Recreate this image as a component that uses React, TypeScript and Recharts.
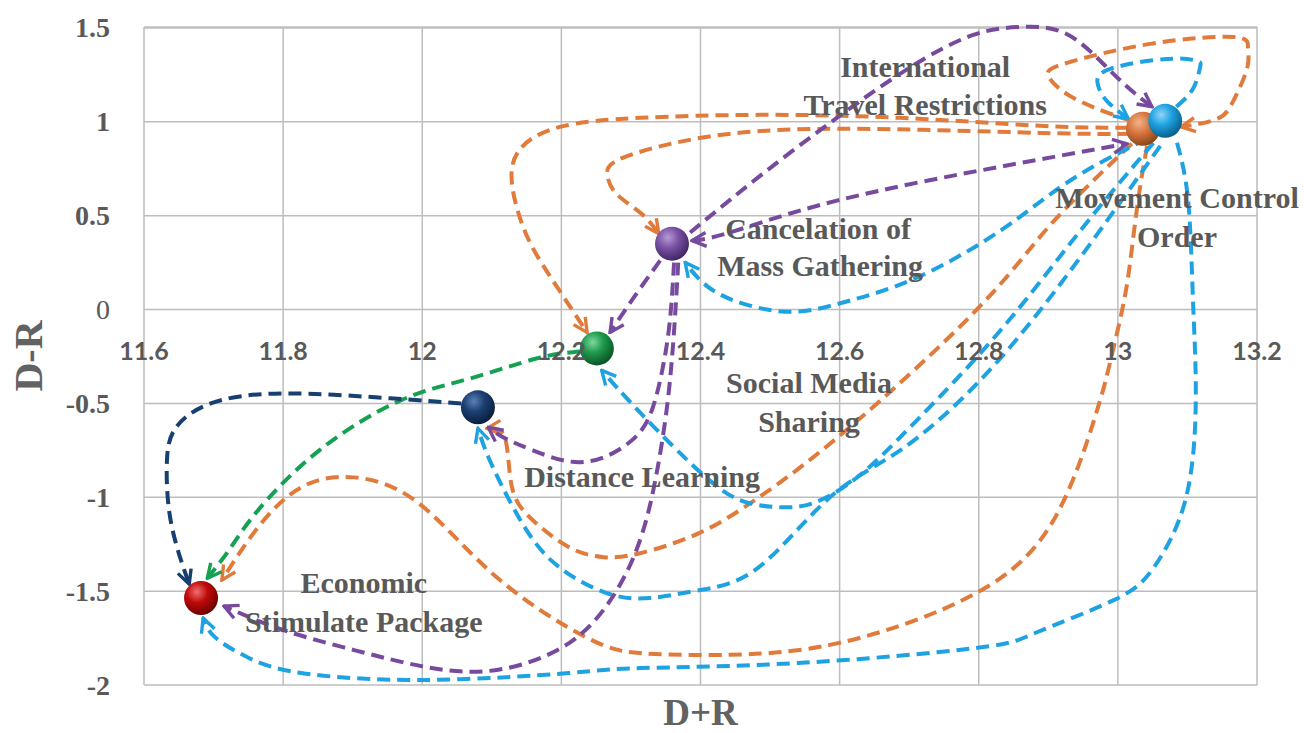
import React from "react";
import {
  ComposedChart,
  Line,
  Scatter,
  XAxis,
  YAxis,
  CartesianGrid,
  Label,
} from "recharts";

// axis ticks
const xTicks = [11.6, 11.8, 12, 12.2, 12.4, 12.6, 12.8, 13, 13.2];
const yTicks = [1.5, 1, 0.5, 0, -0.5, -1, -1.5, -2];

// measures (D+R, D-R)
const measures = [
  { id: "itr", x: 13.036, y: 0.963, base: "#d8773f", light: "#f3b48a", dark: "#8a4418" },
  { id: "mco", x: 13.068, y: 1.005, base: "#1ea2e1", light: "#8fd6f7", dark: "#0b5d88" },
  { id: "cmg", x: 12.359, y: 0.351, base: "#7a52a5", light: "#b79ad6", dark: "#3f2562" },
  { id: "sms", x: 12.251, y: -0.207, base: "#1e9a4c", light: "#7fd79e", dark: "#0b5226" },
  { id: "dl", x: 12.08, y: -0.521, base: "#1c3f72", light: "#5b82b8", dark: "#0a1d3a" },
  { id: "esp", x: 11.682, y: -1.537, base: "#c00a0a", light: "#f07070", dark: "#6a0000" },
];

// text next to the measures
const labelLines = [
  { text: "International", x: 12.723, y: 1.293 },
  { text: "Travel Restrictions", x: 12.723, y: 1.09 },
  { text: "Movement Control", x: 13.085, y: 0.596 },
  { text: "Order", x: 13.085, y: 0.388 },
  { text: "Cancelation of", x: 12.569, y: 0.434 },
  { text: "Mass Gathering", x: 12.572, y: 0.234 },
  { text: "Social Media", x: 12.556, y: -0.388 },
  { text: "Sharing", x: 12.556, y: -0.596 },
  { text: "Distance Learning", x: 12.316, y: -0.888 },
  { text: "Economic", x: 11.916, y: -1.455 },
  { text: "Stimulate Package", x: 11.916, y: -1.66 },
];

// influence paths [D+R, D-R]
const itrToSms: [number, number][] = [
  [13.015, 0.968], [12.888, 0.979], [12.687, 1.021], [12.486, 1.037], [12.313, 1.021],
  [12.198, 0.973], [12.141, 0.856], [12.129, 0.67], [12.149, 0.404], [12.185, 0.17], [12.237, -0.122],
];
const itrToCmg: [number, number][] = [
  [13.018, 0.936], [12.888, 0.941], [12.596, 0.963], [12.401, 0.915], [12.289, 0.809],
  [12.266, 0.723], [12.279, 0.617], [12.315, 0.511], [12.34, 0.404],
];
const itrLoop: [number, number][] = [
  [13.02, 1.005], [12.989, 1.043], [12.931, 1.138], [12.9, 1.245], [12.927, 1.314], [13.046, 1.415],
  [13.166, 1.452], [13.187, 1.394], [13.186, 1.287], [13.166, 1.112], [13.143, 1.016], [13.091, 0.973],
];
const itrToDl: [number, number][] = [
  [13.02, 0.883], [12.902, 0.447], [12.796, -0.005], [12.609, -0.644], [12.484, -1.0], [12.398, -1.191],
  [12.313, -1.298], [12.261, -1.319], [12.211, -1.266], [12.159, -1.122], [12.129, -0.947], [12.119, -0.686], [12.093, -0.633],
];
const itrToEsp: [number, number][] = [
  [13.042, 0.872], [13.029, 0.58], [13.018, 0.261], [13.006, -0.005], [12.986, -0.324], [12.967, -0.574],
  [12.91, -1.106], [12.796, -1.511], [12.598, -1.777], [12.427, -1.84], [12.313, -1.83], [12.235, -1.745],
  [12.107, -1.426], [11.995, -1.032], [11.902, -0.894], [11.826, -0.947], [11.764, -1.16], [11.712, -1.441],
];
const mcoLoop: [number, number][] = [
  [13.084, 1.08], [13.108, 1.176], [13.118, 1.287], [13.114, 1.324], [13.071, 1.335],
  [12.989, 1.282], [12.971, 1.202], [12.984, 1.112], [13.015, 1.016],
];
const mcoToCmg: [number, number][] = [
  [13.042, 0.91], [12.931, 0.686], [12.831, 0.42], [12.711, 0.17], [12.615, 0.048],
  [12.54, -0.011], [12.471, 0.021], [12.414, 0.112], [12.378, 0.25],
];
const mcoToSms: [number, number][] = [
  [13.051, 0.888], [12.946, 0.42], [12.831, -0.112], [12.711, -0.59], [12.629, -0.883], [12.572, -1.016],
  [12.529, -1.053], [12.471, -1.032], [12.408, -0.894], [12.313, -0.548], [12.258, -0.324],
];
const mcoToDl: [number, number][] = [
  [13.061, 0.872], [12.974, 0.42], [12.888, -0.005], [12.795, -0.404], [12.687, -0.75], [12.586, -1.0],
  [12.484, -1.372], [12.398, -1.495], [12.327, -1.537], [12.261, -1.505], [12.185, -1.335],
  [12.133, -1.069], [12.097, -0.803], [12.08, -0.633],
];
const mcoToEsp: [number, number][] = [
  [13.085, 0.888], [13.101, 0.58], [13.108, 0.048], [13.112, -0.484], [13.097, -1.016], [13.052, -1.372],
  [12.994, -1.548], [12.881, -1.723], [12.796, -1.803], [12.54, -1.883], [12.313, -1.91], [12.211, -1.936],
  [12.005, -1.973], [11.826, -1.936], [11.748, -1.851], [11.702, -1.745], [11.685, -1.644],
];
const cmgToMco: [number, number][] = [
  [12.385, 0.41], [12.486, 0.713], [12.596, 1.021], [12.7, 1.287], [12.79, 1.46], [12.86, 1.505],
  [12.925, 1.47], [12.982, 1.298], [13.02, 1.165], [13.049, 1.08],
];
const cmgItrBoth: [number, number][] = [
  [12.388, 0.367], [12.442, 0.41], [12.596, 0.58], [12.831, 0.761], [13.013, 0.883],
];
const cmgToSms: [number, number][] = [[12.342, 0.261], [12.306, 0.074], [12.27, -0.122]];
const cmgToDl: [number, number][] = [
  [12.362, 0.25], [12.356, -0.059], [12.345, -0.324], [12.33, -0.537], [12.306, -0.681],
  [12.261, -0.787], [12.211, -0.809], [12.159, -0.75], [12.119, -0.686], [12.095, -0.628],
];
const cmgToEsp: [number, number][] = [
  [12.368, 0.25], [12.363, -0.059], [12.353, -0.484], [12.335, -0.91], [12.313, -1.229], [12.277, -1.511],
  [12.211, -1.777], [12.107, -1.92], [12.005, -1.904], [11.902, -1.814], [11.8, -1.707], [11.715, -1.58],
];
const smsToEsp: [number, number][] = [
  [12.227, -0.223], [12.164, -0.261], [12.069, -0.367], [11.969, -0.484],
  [11.852, -0.75], [11.764, -1.069], [11.722, -1.282], [11.691, -1.431],
];
const dlToEsp: [number, number][] = [
  [12.056, -0.5], [11.954, -0.473], [11.8, -0.447], [11.696, -0.5], [11.646, -0.628],
  [11.633, -0.803], [11.636, -1.069], [11.65, -1.298], [11.665, -1.463],
];

const ORANGE = "#e07b3c";
const BLUE = "#1ea2e1";
const PURPLE = "#774a9e";
const GREEN = "#14a152";
const NAVY = "#173f70";

const arrows = [
  { key: "itr-sms", color: ORANGE, m: "o", pts: itrToSms },
  { key: "itr-cmg", color: ORANGE, m: "o", pts: itrToCmg },
  { key: "itr-loop", color: ORANGE, m: "o", pts: itrLoop },
  { key: "itr-dl", color: ORANGE, m: "o", pts: itrToDl },
  { key: "itr-esp", color: ORANGE, m: "o", pts: itrToEsp },
  { key: "mco-loop", color: BLUE, m: "b", pts: mcoLoop },
  { key: "mco-cmg", color: BLUE, m: "b", pts: mcoToCmg },
  { key: "mco-sms", color: BLUE, m: "b", pts: mcoToSms },
  { key: "mco-dl", color: BLUE, m: "b", pts: mcoToDl },
  { key: "mco-esp", color: BLUE, m: "b", pts: mcoToEsp },
  { key: "cmg-mco", color: PURPLE, m: "p", pts: cmgToMco },
  { key: "cmg-itr", color: PURPLE, m: "p", pts: cmgItrBoth, both: true },
  { key: "cmg-sms", color: PURPLE, m: "p", pts: cmgToSms },
  { key: "cmg-dl", color: PURPLE, m: "p", pts: cmgToDl },
  { key: "cmg-esp", color: PURPLE, m: "p", pts: cmgToEsp },
  { key: "sms-esp", color: GREEN, m: "g", pts: smsToEsp },
  { key: "dl-esp", color: NAVY, m: "n", pts: dlToEsp },
];

const W = 1304;
const H = 733;
const PLOT_TOP = 27;
const PLOT_BOTTOM = 48;
const PLOT_H = H - PLOT_TOP - PLOT_BOTTOM;
const TEXT = "#595959";
const SERIF = "'Liberation Serif', 'Times New Roman', serif";

// x labels sit under the zero line, not at the bottom of the plot
const zeroFromBottom = (PLOT_H * (0 - yTicks[yTicks.length - 1])) / (yTicks[0] - yTicks[yTicks.length - 1]);

const XTick = (props: any) => {
  const { x, y, payload } = props;
  return (
    <text x={x} y={y - zeroFromBottom + 41} textAnchor="middle" dominantBaseline="central"
      fill={TEXT} fontFamily="Lato, 'Open Sans', sans-serif" fontWeight={700} fontSize={25}>
      {payload.value}
    </text>
  );
};

const YTick = (props: any) => {
  const { x, y, payload } = props;
  return (
    <text x={x - 34} y={y} textAnchor="end" dominantBaseline="central" fill={TEXT}
      fontFamily={SERIF} fontWeight={payload.value === 0 ? 400 : 700} fontSize={28}>
      {payload.value}
    </text>
  );
};

const XTitle = (props: any) => {
  const { viewBox } = props;
  return (
    <text x={viewBox.x + viewBox.width / 2} y={viewBox.y + 40} textAnchor="middle"
      fill="#626262" fontFamily={SERIF} fontWeight={700} fontSize={37}>
      D+R
    </text>
  );
};

const YTitle = (props: any) => {
  const { viewBox } = props;
  const cx = viewBox.x + 28;
  const cy = viewBox.y + viewBox.height / 2;
  return (
    <text x={cx} y={cy} transform={`rotate(-90, ${cx}, ${cy})`} textAnchor="middle" dominantBaseline="central"
      fill="#626262" fontFamily={SERIF} fontWeight={700} fontSize={40}>
      D-R
    </text>
  );
};

const Sphere = (props: any) => {
  const { cx, cy, payload } = props;
  return <circle cx={cx} cy={cy} r={17} fill={`url(#sph-${payload.id})`} />;
};

const TextMark = (props: any) => {
  const { cx, cy, payload } = props;
  return (
    <text x={cx} y={cy} textAnchor="middle" dominantBaseline="central" fill={TEXT}
      fontFamily={SERIF} fontWeight={700} fontSize={30}>
      {payload.text}
    </text>
  );
};

const markerColors: Record<string, string> = { o: ORANGE, b: BLUE, p: PURPLE, g: GREEN, n: NAVY };

export default function App() {
  return (
    <div style={{ position: "absolute", left: 0, top: 0, background: "#fff" }}>
      <ComposedChart width={W} height={H} margin={{ top: PLOT_TOP, right: 47, left: 0, bottom: 0 }}>
        <defs>
          {Object.entries(markerColors).map(([k, c]) => (
            <marker key={k} id={`ah-${k}`} viewBox="0 0 18 18" refX={16} refY={9} markerWidth={18} markerHeight={18}
              markerUnits="userSpaceOnUse" orient="auto-start-reverse">
              <path d="M2,2 L16,9 L2,16" fill="none" stroke={c} strokeWidth={3.4} strokeDasharray="none" />
            </marker>
          ))}
          {measures.map((m) => (
            <radialGradient key={m.id} id={`sph-${m.id}`} cx="38%" cy="32%" r="70%">
              <stop offset="0%" stopColor={m.light} />
              <stop offset="45%" stopColor={m.base} />
              <stop offset="100%" stopColor={m.dark} />
            </radialGradient>
          ))}
        </defs>
        <CartesianGrid stroke="#bdbdbd" strokeWidth={1.5} />
        <XAxis type="number" dataKey="x" domain={[11.6, 13.2]} ticks={xTicks} interval={0}
          height={PLOT_BOTTOM} axisLine={false} tickLine={false} tickSize={0} tickMargin={0} tick={<XTick />}>
          <Label content={<XTitle />} />
        </XAxis>
        <YAxis type="number" dataKey="y" domain={[-2, 1.5]} ticks={yTicks} interval={0}
          width={144} axisLine={false} tickLine={false} tickSize={0} tickMargin={0} tick={<YTick />}>
          <Label content={<YTitle />} />
        </YAxis>
        <Scatter data={labelLines} dataKey="y" shape={<TextMark />} isAnimationActive={false} legendType="none" />
        {arrows.map((a) => (
          <Line
            key={a.key}
            data={a.pts.map(([x, y]) => ({ x, y }))}
            dataKey="y"
            type="natural"
            stroke={a.color}
            strokeWidth={4}
            strokeDasharray="13 7"
            dot={false}
            activeDot={false}
            legendType="none"
            isAnimationActive={false}
            markerEnd={`url(#ah-${a.m})`}
            markerStart={(a as any).both ? `url(#ah-${a.m})` : undefined}
          />
        ))}
        <Scatter data={measures} dataKey="y" shape={<Sphere />} isAnimationActive={false} legendType="none" />
      </ComposedChart>
    </div>
  );
}
